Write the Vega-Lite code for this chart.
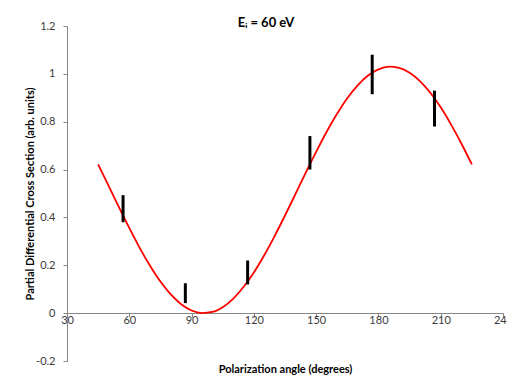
{
  "$schema": "https://vega.github.io/schema/vega-lite/v6.json",
  "width": 436,
  "height": 335,
  "autosize": {"type": "none"},
  "padding": {"left": 67, "top": 26, "right": 4, "bottom": 17},
  "background": "white",
  "title": {
    "text": "Eᵢ = 60 eV",
    "font": "Lato",
    "fontSize": 13,
    "fontWeight": "bold",
    "color": "#000000",
    "dx": -19,
    "dy": 14
  },
  "config": {
    "view": {"stroke": null},
    "axis": {
      "labelFont": "Lato",
      "labelFontSize": 11,
      "labelColor": "#3a3a3a",
      "titleFont": "Lato",
      "titleFontSize": 11,
      "titleFontWeight": "bold",
      "titleColor": "#000000",
      "domainColor": "#868686",
      "tickColor": "#868686",
      "grid": false,
      "labelExpr": "'' + datum.value"
    }
  },
  "datasets": {
    "curve": [
      {"angle": 45, "value": 0.622},
      {"angle": 50, "value": 0.533},
      {"angle": 55, "value": 0.443},
      {"angle": 60, "value": 0.356},
      {"angle": 65, "value": 0.273},
      {"angle": 70, "value": 0.198},
      {"angle": 75, "value": 0.132},
      {"angle": 80, "value": 0.078},
      {"angle": 85, "value": 0.037},
      {"angle": 90, "value": 0.011},
      {"angle": 95, "value": 0.0003},
      {"angle": 100, "value": 0.005},
      {"angle": 105, "value": 0.025},
      {"angle": 110, "value": 0.060},
      {"angle": 115, "value": 0.109},
      {"angle": 120, "value": 0.170},
      {"angle": 125, "value": 0.242},
      {"angle": 130, "value": 0.322},
      {"angle": 135, "value": 0.408},
      {"angle": 140, "value": 0.497},
      {"angle": 145, "value": 0.587},
      {"angle": 150, "value": 0.674},
      {"angle": 155, "value": 0.757},
      {"angle": 160, "value": 0.832},
      {"angle": 165, "value": 0.898},
      {"angle": 170, "value": 0.952},
      {"angle": 175, "value": 0.993},
      {"angle": 180, "value": 1.019},
      {"angle": 185, "value": 1.030},
      {"angle": 190, "value": 1.025},
      {"angle": 195, "value": 1.005},
      {"angle": 200, "value": 0.970},
      {"angle": 205, "value": 0.921},
      {"angle": 210, "value": 0.860},
      {"angle": 215, "value": 0.788},
      {"angle": 220, "value": 0.708},
      {"angle": 225, "value": 0.622}
    ],
    "bars": [
      {"angle": 57, "low": 0.38, "high": 0.493},
      {"angle": 87, "low": 0.042, "high": 0.125},
      {"angle": 117, "low": 0.12, "high": 0.22},
      {"angle": 147, "low": 0.60, "high": 0.74},
      {"angle": 177, "low": 0.915, "high": 1.08},
      {"angle": 207, "low": 0.78, "high": 0.93}
    ]
  },
  "layer": [
    {
      "data": {"name": "curve"},
      "mark": {"type": "line", "color": "#FF0000", "strokeWidth": 1.8, "interpolate": "monotone"},
      "encoding": {
        "x": {
          "field": "angle", "type": "quantitative",
          "scale": {"domain": [30, 240], "nice": false, "zero": false},
          "axis": {
            "title": "Polarization angle (degrees)",
            "values": [30, 60, 90, 120, 150, 180, 210, 240],
            "offset": -48,
            "tickSize": 4,
            "labelPadding": -3,
            "labelOverlap": false,
            "labelFlush": false,
            "titleY": 59,
            "titleBaseline": "alphabetic"
          }
        },
        "y": {
          "field": "value", "type": "quantitative",
          "scale": {"domain": [-0.2, 1.2], "nice": false, "zero": false},
          "axis": {
            "title": "Partial Differential Cross Section (arb. units)",
            "values": [-0.2, 0, 0.2, 0.4, 0.6, 0.8, 1, 1.2],
            "tickSize": 4,
            "labelPadding": 8,
            "labelOverlap": false,
            "labelFlush": false,
            "titleX": -37,
            "titleBaseline": "middle"
          }
        }
      }
    },
    {
      "data": {"name": "bars"},
      "mark": {"type": "rule", "color": "#000000", "strokeWidth": 3},
      "encoding": {
        "x": {"field": "angle", "type": "quantitative", "title": "Polarization angle (degrees)"},
        "y": {"field": "low", "type": "quantitative", "title": "Partial Differential Cross Section (arb. units)"},
        "y2": {"field": "high"}
      }
    }
  ]
}
